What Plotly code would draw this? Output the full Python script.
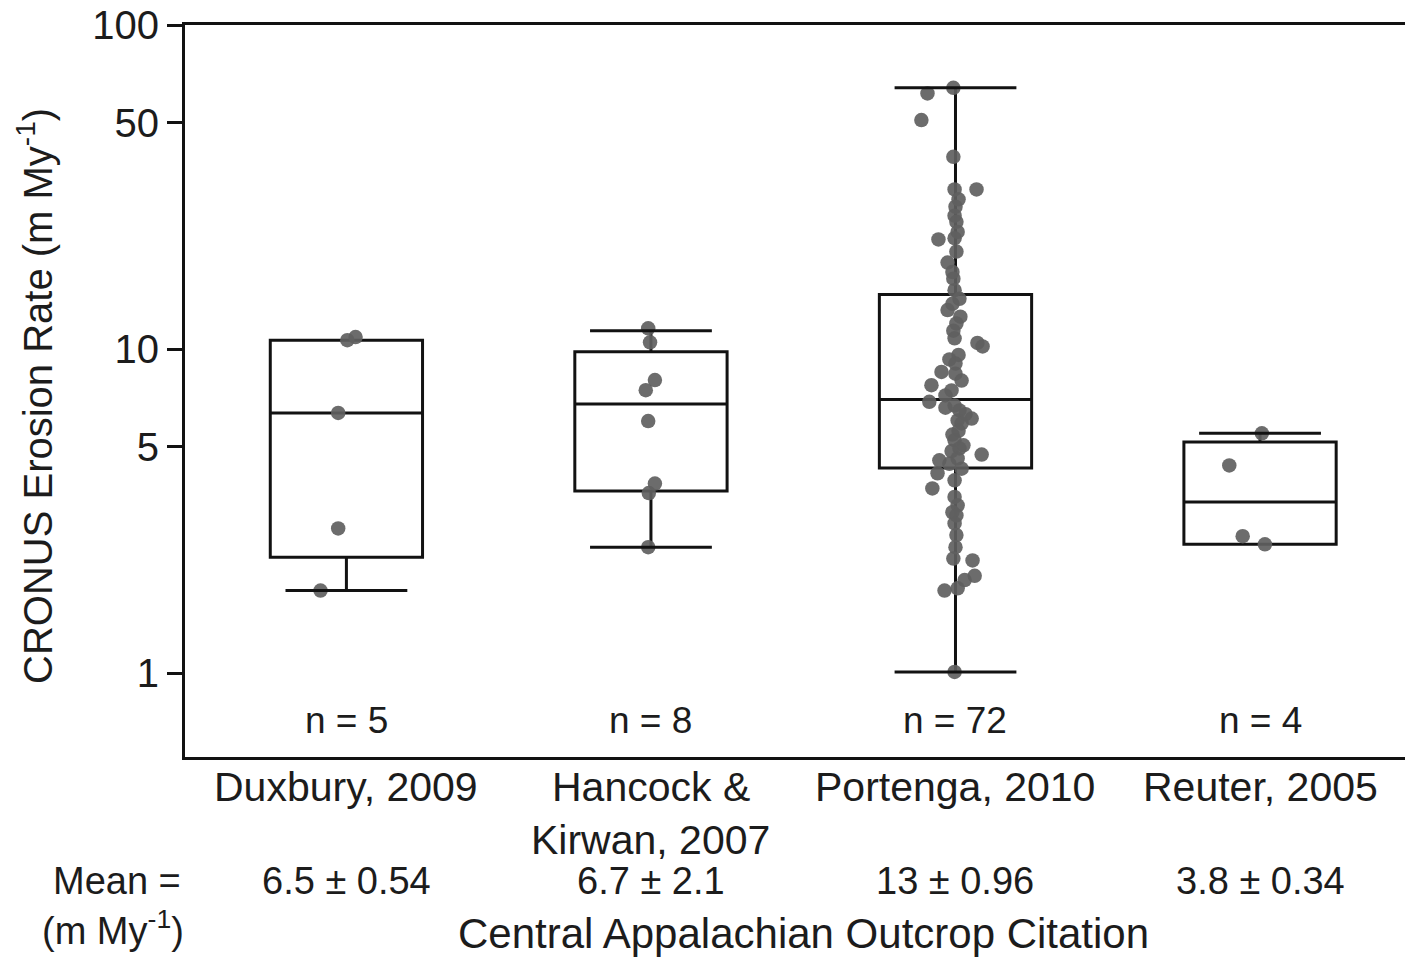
import numpy as np
import plotly.graph_objects as go

# ---- data -------------------------------------------------------------
citations = ["Duxbury, 2009", "Hancock &<br>Kirwan, 2007", "Portenga, 2010", "Reuter, 2005"]
n_labels = ["n = 5", "n = 8", "n = 72", "n = 4"]
mean_labels = ["6.5 ± 0.54", "6.7 ± 2.1", "13 ± 0.96", "3.8 ± 0.34"]

# box-plot summaries (m/My)
q1 = [2.28, 3.65, 4.30, 2.50]
median = [6.36, 6.77, 7.00, 3.38]
q3 = [10.66, 9.81, 14.75, 5.17]
lower_whisker = [1.80, 2.45, 1.01, 2.50]
upper_whisker = [10.66, 11.4, 64.0, 5.50]

# individual CRONUS erosion rates (m/My)
duxbury = [10.9, 10.66, 6.36, 2.80, 1.80]
hancock = [11.6, 10.5, 8.03, 7.47, 6.0, 3.85, 3.60, 2.45]
portenga = [
    64.0, 61.5, 50.9, 39.2, 31.1, 31.1, 29.0, 27.5, 25.8, 24.7, 23.0, 22.0,
    21.8, 20.0, 18.5, 17.3, 16.5, 15.2,
    14.3, 13.8, 13.2, 12.6, 12.0, 11.4, 10.8, 10.45, 10.2, 9.6, 9.3, 9.03,
    8.51, 8.4, 8.0, 7.74, 7.46, 7.2,
    6.88, 6.7, 6.6, 6.47, 6.3, 6.11, 6.03, 5.9, 5.6, 5.45, 5.24, 5.05,
    4.94, 4.85, 4.73, 4.6, 4.54, 4.43,
    4.28, 4.14, 3.94, 3.72, 3.5, 3.3, 3.14, 3.07, 2.9, 2.67, 2.45, 2.26,
    2.23, 2.0, 1.94, 1.83, 1.80, 1.01,
]
reuter = [5.5, 4.38, 2.65, 2.50]

# horizontal strip jitter for the points (category units)
duxbury_jitter = [0.030, 0.003, -0.027, -0.027, -0.085]
hancock_jitter = [-0.009, -0.003, 0.013, -0.017, -0.009, 0.013, -0.007, -0.009]
portenga_jitter = [
    -0.007, -0.092, -0.112, -0.007, -0.003, 0.069, 0.010, 0.000, -0.003, 0.003, 0.007, -0.003,
    -0.056, 0.003, -0.026, -0.010, -0.007, -0.003,
    0.013, -0.010, -0.026, 0.016, 0.003, -0.007, -0.003, 0.072, 0.089, 0.010, -0.020, 0.000,
    -0.046, 0.000, 0.020, -0.079, -0.013, -0.033,
    -0.086, -0.003, -0.033, 0.013, 0.033, 0.053, 0.007, 0.020, 0.010, -0.010, -0.003, 0.026,
    0.013, -0.013, 0.086, 0.007, -0.053, -0.020,
    0.020, -0.059, -0.003, -0.076, -0.003, 0.007, -0.010, 0.003, -0.003, 0.003, 0.000, -0.007,
    0.056, 0.063, 0.030, 0.007, -0.036, -0.003,
]
reuter_jitter = [0.006, -0.101, -0.057, 0.016]

groups = [duxbury, hancock, portenga, reuter]
jitters = [duxbury_jitter, hancock_jitter, portenga_jitter, reuter_jitter]

# ---- styling ----------------------------------------------------------
FONT = "Arial, Liberation Sans, Helvetica, sans-serif"
INK = "#1c1c1c"
LINE = "#121212"
BOX_W = 0.50
CAP_W = 0.40

W, H = 1405, 957
M_L, M_R, M_T, M_B = 185, 0, 25, 200
PLOT_H = H - M_T - M_B


def paper_y(px):
    """Convert a pixel row (from the top of the figure) to paper y."""
    return (H - M_B - px) / PLOT_H


fig = go.Figure()

# points first, boxes drawn on top
for i, (vals, jit) in enumerate(zip(groups, jitters)):
    fig.add_trace(go.Scatter(
        x=[i + j for j in jit], y=vals, mode="markers",
        marker=dict(size=14.5, color="rgba(95,95,95,0.92)", line=dict(width=0)),
        showlegend=False, hoverinfo="y",
    ))

for i in range(len(citations)):
    fig.add_trace(go.Box(
        x=[i], q1=[q1[i]], median=[median[i]], q3=[q3[i]],
        lowerfence=[lower_whisker[i]], upperfence=[upper_whisker[i]],
        width=BOX_W, boxpoints=False,
        line=dict(color=LINE, width=3), fillcolor="rgba(0,0,0,0)",
        whiskerwidth=0, showlegend=False,
    ))
    # whisker caps
    for fence, edge in ((lower_whisker[i], q1[i]), (upper_whisker[i], q3[i])):
        if abs(fence - edge) > 1e-9:
            fig.add_trace(go.Scatter(
                x=[i - CAP_W / 2, i + CAP_W / 2], y=[fence, fence], mode="lines",
                line=dict(color=LINE, width=3), showlegend=False, hoverinfo="skip",
            ))

# sample counts inside the plot
for i, lab in enumerate(n_labels):
    fig.add_annotation(x=i, y=np.log10(0.716), xref="x", yref="y", text=lab,
                       showarrow=False, font=dict(size=37, color=INK, family=FONT),
                       xanchor="center", yanchor="middle")

# category labels (one annotation per text line)
for i, lab in enumerate(citations):
    for k, line in enumerate(lab.split("<br>")):
        fig.add_annotation(x=i, y=paper_y(787 + 53 * k), xref="x", yref="paper", text=line,
                           showarrow=False, font=dict(size=41, color=INK, family=FONT),
                           xanchor="center", yanchor="middle")

# mean row under the category labels
for i, lab in enumerate(mean_labels):
    fig.add_annotation(x=i, y=paper_y(881), xref="x", yref="paper", text=lab,
                       showarrow=False, font=dict(size=38, color=INK, family=FONT),
                       xanchor="center", yanchor="middle")
fig.add_annotation(x=(117 - M_L) / (W - M_L - M_R), y=paper_y(881), xref="paper", yref="paper",
                   text="Mean =", showarrow=False,
                   font=dict(size=38, color=INK, family=FONT),
                   xanchor="center", yanchor="middle")
fig.add_annotation(x=(113 - M_L) / (W - M_L - M_R), y=paper_y(928), xref="paper", yref="paper",
                   text="(m My<sup>-1</sup>)", showarrow=False,
                   font=dict(size=38, color=INK, family=FONT),
                   xanchor="center", yanchor="middle")
fig.add_annotation(x=(803 - M_L) / (W - M_L - M_R), y=paper_y(933), xref="paper", yref="paper",
                   text="Central Appalachian Outcrop Citation",
                   showarrow=False, font=dict(size=42, color=INK, family=FONT),
                   xanchor="center", yanchor="middle")
fig.add_annotation(x=(35 - M_L) / (W - M_L - M_R), y=paper_y(396), xref="paper", yref="paper",
                   text="CRONUS Erosion Rate (m My<sup>-1</sup>)", textangle=-90,
                   showarrow=False, font=dict(size=40, color=INK, family=FONT),
                   xanchor="center", yanchor="middle")

fig.update_layout(
    width=W, height=H,
    margin=dict(l=M_L, r=M_R, t=M_T, b=M_B),
    paper_bgcolor="white", plot_bgcolor="white",
    font=dict(family=FONT, color=INK),
    xaxis=dict(
        range=[-0.53, 3.476], showticklabels=False,
        showgrid=False, zeroline=False, showline=True, linecolor=LINE, linewidth=3,
        mirror=True, ticks="",
    ),
    yaxis=dict(
        type="log", range=[np.log10(0.552), 2],
        tickvals=[1, 5, 10, 50, 100], ticktext=["1", "5", "10", "50", "100"],
        showgrid=False, zeroline=False, showline=True, linecolor=LINE, linewidth=3,
        ticks="outside", ticklen=15, tickwidth=3, tickcolor=LINE,
        tickfont=dict(size=40, color=INK, family=FONT),
    ),
)

fig.write_html("out.html")
